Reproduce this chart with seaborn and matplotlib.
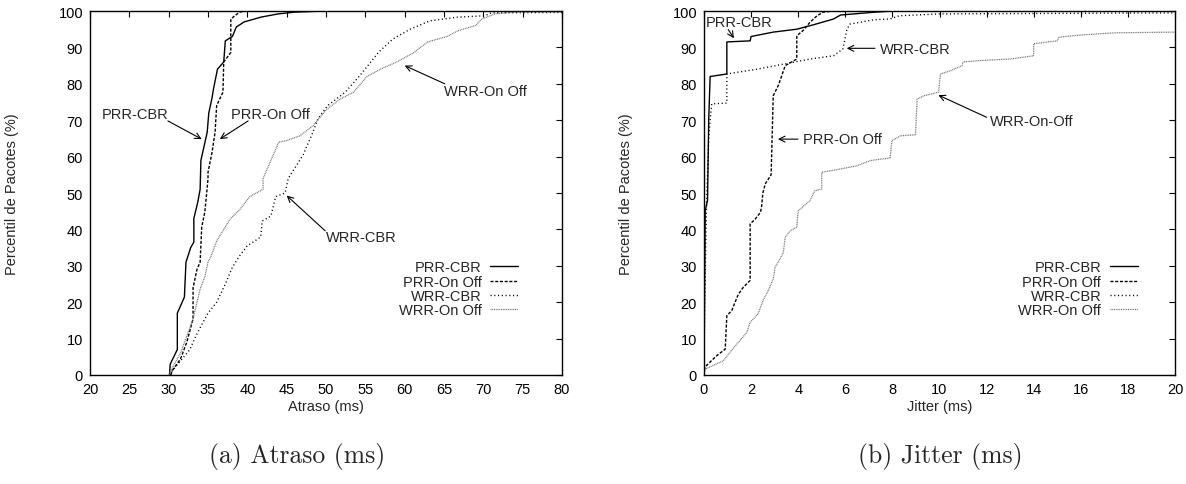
import numpy as np
import pandas as pd
import seaborn as sns
import matplotlib.pyplot as plt

# ---- (a) Atraso (ms): CDF vertices ----
atr_prr_cbr_x = [30.1, 30.2, 31.1, 31.1, 32.0, 32.2, 32.8, 33.2, 33.2, 33.7, 34.0, 34.1, 34.9, 35.1, 35.5, 35.7, 36.2, 37.0, 37.2, 38.1, 38.6, 39.6, 41.7, 43.9, 46.1, 50.0, 80.0]
atr_prr_cbr_y = [0, 3, 7, 17, 21.4, 31, 35, 36.5, 43, 47.5, 51, 59, 66.7, 72, 76, 78.6, 84, 86, 91.8, 93, 95.6, 97, 98.3, 99.2, 99.7, 100, 100]

atr_prr_onoff_x = [30.3, 30.4, 31.5, 32.3, 33.1, 33.1, 33.6, 34.0, 34.2, 34.6, 35.0, 35.0, 35.5, 35.9, 36.1, 36.9, 37.0, 37.9, 37.9, 39.0, 40.0, 80.0]
atr_prr_onoff_y = [0, 1, 4.4, 9, 15.4, 24, 29, 31, 40.6, 44.8, 53.8, 55.7, 61, 66.7, 74, 77.7, 86, 88.6, 97.8, 99.7, 100, 100]

atr_wrr_cbr_x = [30.2, 30.4, 32.7, 33.3, 34.0, 35.0, 36.1, 37.1, 38.1, 39.0, 40.0, 41.7, 41.9, 43.0, 43.6, 44.8, 45.2, 47.1, 48.3, 49.0, 50.2, 52.4, 54.2, 56.7, 58.5, 60.7, 63.2, 66.7, 70.2, 71.0, 80.0]
atr_wrr_cbr_y = [0, 1, 7, 10, 13, 17, 20, 24.5, 29.6, 32.7, 35.5, 37.9, 42.3, 43.7, 49, 50, 54, 60.5, 66.5, 70.5, 74, 77.6, 82, 88.7, 92.3, 95, 97.3, 98.3, 98.7, 99.5, 99.6]

atr_wrr_onoff_x = [30.1, 30.2, 31.5, 32.3, 33.1, 33.6, 34.0, 34.6, 35.0, 35.4, 36.1, 37.0, 37.8, 39.1, 40.3, 42.0, 42.0, 43.0, 44.0, 44.8, 46.7, 48.3, 49.3, 50.1, 51.8, 53.5, 55.2, 56.9, 59.0, 61.2, 62.9, 65.4, 66.8, 69.0, 69.8, 71.5, 74.0, 80.0]
atr_wrr_onoff_y = [0, 1, 6, 10.7, 15.4, 20, 23.6, 27, 31, 32.7, 36.8, 40, 42.8, 45.6, 49, 51, 54, 59, 64, 64.3, 65.7, 68.4, 71, 73, 75.8, 77.7, 82, 84, 86, 88.6, 91.5, 93, 94.6, 96, 97.8, 99.2, 99.7, 99.8]

# ---- (b) Jitter (ms) ----
jit_prr_cbr_x = [0.0, 0.05, 0.15, 0.2, 0.26, 0.97, 0.97, 1.96, 2.0, 2.94, 3.94, 4.64, 5.5, 5.8, 7.3, 8.0, 20.0]
jit_prr_cbr_y = [0, 45, 48, 70, 82, 82.7, 91.5, 91.8, 93, 94.2, 95, 96.2, 97.8, 98.9, 99.7, 100, 100]

jit_prr_onoff_x = [0.0, 0.04, 0.54, 0.9, 0.97, 1.18, 1.32, 1.46, 1.67, 1.96, 1.96, 2.17, 2.4, 2.45, 2.5, 2.6, 2.85, 2.94, 3.15, 3.3, 3.45, 3.94, 3.94, 4.2, 4.5, 4.8, 5.07, 5.5, 20.0]
jit_prr_onoff_y = [0, 2.2, 5.3, 7.1, 16.3, 17.7, 20, 22.2, 24.1, 26, 41.5, 42.8, 44.7, 46.5, 50, 52.5, 55, 76.7, 79.5, 82.2, 85, 86.8, 93.2, 94.6, 96.9, 98.7, 99.7, 100, 100]

jit_wrr_cbr_x = [0.0, 0.03, 0.1, 0.2, 0.26, 0.33, 0.97, 0.97, 2.24, 3.37, 4.5, 5.5, 5.9, 6.07, 6.2, 7.2, 7.9, 8.3, 10.0, 20.0]
jit_wrr_cbr_y = [0, 20, 45, 65, 70, 74.5, 74.7, 82.7, 84, 85.4, 86.8, 87.7, 89.6, 95, 96.4, 97.6, 97.8, 98.7, 99.2, 99.5]

jit_wrr_onoff_x = [0.0, 0.04, 0.82, 1.1, 1.46, 1.82, 1.96, 2.3, 2.5, 2.73, 2.94, 3.02, 3.23, 3.37, 3.45, 3.66, 3.94, 4.0, 4.5, 4.7, 5.0, 5.0, 5.8, 6.5, 7.06, 7.5, 7.9, 7.98, 8.34, 8.98, 9.05, 9.33, 9.96, 10.04, 10.47, 10.96, 11.0, 11.74, 13.0, 14.0, 14.0, 15.0, 15.07, 16.0, 17.4, 20.0]
jit_wrr_onoff_y = [0, 1.6, 3.9, 6.2, 9, 11.7, 14.5, 16.8, 20.4, 23.2, 26.4, 29.6, 31.9, 33.7, 37.9, 39.6, 40.6, 45.1, 47.9, 50.6, 51.1, 55.7, 56.6, 57.5, 58.9, 59.3, 59.6, 64.4, 65.7, 66, 75.8, 76.7, 77.7, 82.7, 83.6, 85, 86, 86.4, 86.8, 87.7, 91, 91.8, 92.8, 93.4, 94, 94.2]

series_names = ["PRR-CBR", "PRR-On Off", "WRR-CBR", "WRR-On Off"]
ylabel = "Percentil de Pacotes (%)"

sns.set_style("white")
plt.rcParams['font.family'] = ['Liberation Sans', 'DejaVu Sans']
plt.rcParams['font.size'] = 10.5

styles = [
    dict(color="black", lw=1.0, linestyle="-"),
    dict(color="black", lw=1.0, linestyle=(0, (2.2, 1.2))),
    dict(color="black", lw=1.0, linestyle=(0, (0.8, 1.9))),
    dict(color="#777777", lw=0.9, linestyle=(0, (0.8, 0.6))),
]

fig = plt.figure(figsize=(11.86, 4.85), dpi=100)
ax1 = fig.add_axes([90 / 1186, 109 / 485, 472 / 1186, 364 / 485])
ax2 = fig.add_axes([704 / 1186, 109 / 485, 471 / 1186, 364 / 485])

panels = [
    (ax1, [(atr_prr_cbr_x, atr_prr_cbr_y), (atr_prr_onoff_x, atr_prr_onoff_y),
           (atr_wrr_cbr_x, atr_wrr_cbr_y), (atr_wrr_onoff_x, atr_wrr_onoff_y)],
     (20, 80), np.arange(20, 81, 5), "Atraso (ms)"),
    (ax2, [(jit_prr_cbr_x, jit_prr_cbr_y), (jit_prr_onoff_x, jit_prr_onoff_y),
           (jit_wrr_cbr_x, jit_wrr_cbr_y), (jit_wrr_onoff_x, jit_wrr_onoff_y)],
     (0, 20), np.arange(0, 21, 2), "Jitter (ms)"),
]

for ax, data, xlim, xticks, xlabel in panels:
    for (xs, ys), name, st in zip(data, series_names, styles):
        df = pd.DataFrame({"x": xs, "y": ys})
        sns.lineplot(data=df, x="x", y="y", ax=ax, estimator=None, sort=False,
                     label=name, legend=False, **st)
    ax.set_xlim(*xlim)
    ax.set_ylim(0, 100)
    ax.set_xticks(xticks)
    ax.set_yticks(np.arange(0, 101, 10))
    ax.tick_params(direction="in", top=True, right=True, length=4, width=0.8, pad=5,
                   labelsize=10.5, colors="black")
    for sp in ax.spines.values():
        sp.set_color("black")
        sp.set_linewidth(1.0)
    ax.set_xlabel(xlabel, fontsize=10.5)
    ax.set_ylabel(ylabel, fontsize=10.5)
    ax.xaxis.set_label_coords(0.5, -0.065)
    ax.yaxis.set_label_coords(-0.15, 0.5)

leg_kw = dict(loc="upper right", frameon=False, markerfirst=False, borderpad=0,
              borderaxespad=0, handlelength=1.9, handletextpad=0.6,
              labelspacing=0.02, fontsize=10.5)
ax1.legend(bbox_to_anchor=(0.907, 0.315), **leg_kw)
ax2.legend(bbox_to_anchor=(0.921, 0.315), **leg_kw)

arrow = dict(arrowstyle="->", color="black", lw=0.8, shrinkA=0, shrinkB=0)

# annotations panel (a)
ax1.text(25.7, 71.7, "PRR-CBR", ha="center", va="center")
ax1.annotate("", xy=(34.2, 64.8), xytext=(29.9, 69.8), arrowprops=arrow)
ax1.text(43.0, 71.7, "PRR-On Off", ha="center", va="center")
ax1.annotate("", xy=(36.5, 64.8), xytext=(40.1, 69.8), arrowprops=arrow)
ax1.text(70.3, 78.0, "WRR-On Off", ha="center", va="center")
ax1.annotate("", xy=(60.0, 85.0), xytext=(65.1, 80.0), arrowprops=arrow)
ax1.text(54.5, 37.9, "WRR-CBR", ha="center", va="center")
ax1.annotate("", xy=(45.0, 49.3), xytext=(49.9, 39.6), arrowprops=arrow)

# annotations panel (b)
ax2.text(1.49, 97.0, "PRR-CBR", ha="center", va="center")
ax2.annotate("", xy=(1.27, 92.5), xytext=(1.03, 94.9), arrowprops=arrow)
ax2.text(7.47, 89.6, "WRR-CBR", ha="left", va="center")
ax2.annotate("", xy=(6.06, 89.75), xytext=(7.26, 89.75), arrowprops=arrow)
ax2.text(4.2, 64.8, "PRR-On Off", ha="left", va="center")
ax2.annotate("", xy=(3.14, 64.8), xytext=(3.99, 64.8), arrowprops=arrow)
ax2.text(13.9, 69.9, "WRR-On-Off", ha="center", va="center")
ax2.annotate("", xy=(9.95, 76.9), xytext=(12.0, 70.8), arrowprops=arrow)

fig.text(297 / 1186, 1 - 457 / 485, "(a) Atraso (ms)", family="cmr10",
         fontsize=18.5, ha="center", va="center")
fig.text(940 / 1186, 1 - 457 / 485, "(b) Jitter (ms)", family="cmr10",
         fontsize=18.5, ha="center", va="center")

fig.savefig("out.png", dpi=100)
